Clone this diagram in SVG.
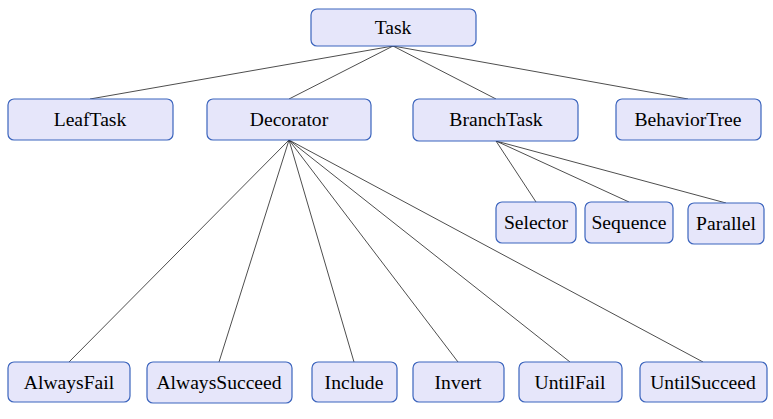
<svg xmlns="http://www.w3.org/2000/svg" width="773" height="419" viewBox="0 0 773 419">
<style>
.n rect{fill:#e6e6fa;stroke:#3b64bd;stroke-width:1.2}
.n text{font-size:19.6px;fill:#000;text-anchor:middle}
.e line{stroke:#000;stroke-width:0.7}
</style>
<rect width="773" height="419" fill="#fff"/>
<g id="edges" class="e">
<line x1="393" y1="46" x2="90" y2="99"/>
<line x1="393" y1="46" x2="289" y2="99"/>
<line x1="393" y1="46" x2="496" y2="99"/>
<line x1="393" y1="46" x2="688" y2="99"/>
<line x1="289" y1="140" x2="69" y2="362"/>
<line x1="289" y1="140" x2="219" y2="362"/>
<line x1="289" y1="140" x2="354" y2="362"/>
<line x1="289" y1="140" x2="458" y2="362"/>
<line x1="289" y1="140" x2="570" y2="362"/>
<line x1="289" y1="140" x2="703" y2="362"/>
<line x1="496" y1="141" x2="536" y2="202"/>
<line x1="496" y1="141" x2="629" y2="202"/>
<line x1="496" y1="141" x2="726" y2="203"/>
</g>
<g font-family="Liberation Serif, Times New Roman, serif">
<g id="Task" class="n"><rect x="311" y="9" width="165" height="37" rx="6"/><text x="393" y="33.5">Task</text></g>
<g id="LeafTask" class="n"><rect x="8" y="99" width="165" height="41" rx="6"/><text x="90" y="126">LeafTask</text></g>
<g id="Decorator" class="n"><rect x="207" y="99" width="164" height="41" rx="6"/><text x="289" y="126">Decorator</text></g>
<g id="BranchTask" class="n"><rect x="413" y="99" width="165" height="42" rx="6"/><text x="496" y="126">BranchTask</text></g>
<g id="BehaviorTree" class="n"><rect x="616" y="99" width="145" height="41" rx="6"/><text x="688" y="126">BehaviorTree</text></g>
<g id="Selector" class="n"><rect x="496" y="202" width="80" height="41" rx="6"/><text x="536" y="229">Selector</text></g>
<g id="Sequence" class="n"><rect x="585" y="202" width="88" height="41" rx="6"/><text x="629" y="229">Sequence</text></g>
<g id="Parallel" class="n"><rect x="688" y="203" width="76" height="41" rx="6"/><text x="726" y="230">Parallel</text></g>
<g id="AlwaysFail" class="n"><rect x="8" y="362" width="122" height="40" rx="6"/><text x="69" y="388.5">AlwaysFail</text></g>
<g id="AlwaysSucceed" class="n"><rect x="147" y="362" width="145" height="41" rx="6"/><text x="219" y="389">AlwaysSucceed</text></g>
<g id="Include" class="n"><rect x="312" y="362" width="85" height="40" rx="6"/><text x="354" y="388.5">Include</text></g>
<g id="Invert" class="n"><rect x="413" y="362" width="91" height="40" rx="6"/><text x="458" y="388.5">Invert</text></g>
<g id="UntilFail" class="n"><rect x="519" y="362" width="103" height="40" rx="6"/><text x="570" y="388.5">UntilFail</text></g>
<g id="UntilSucceed" class="n"><rect x="640" y="362" width="127" height="40" rx="6"/><text x="703" y="388.5">UntilSucceed</text></g>
</g>
</svg>
